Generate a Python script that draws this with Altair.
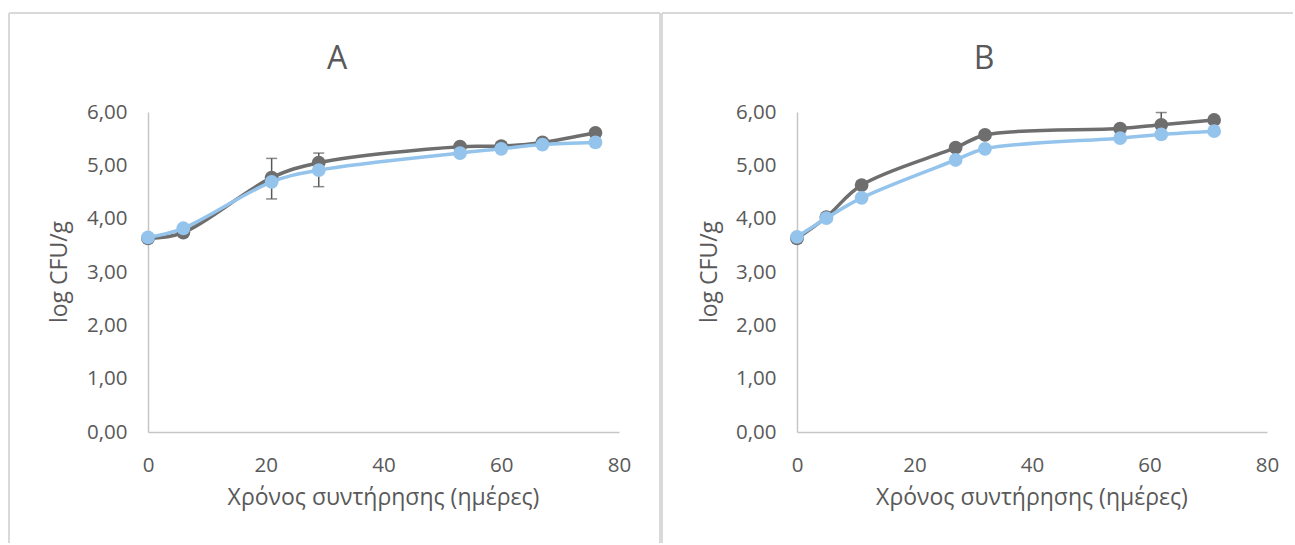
import altair as alt
import pandas as pd

# ---- data ----
A_days = [0, 6, 21, 29, 53, 60, 67, 76]
A_dark = [3.63, 3.74, 4.77, 5.05, 5.35, 5.36, 5.43, 5.61]
A_blue = [3.65, 3.82, 4.69, 4.91, 5.23, 5.31, 5.39, 5.43]
A_err_days = [21, 29]
A_err_lo = [4.37, 4.60]
A_err_hi = [5.13, 5.23]

B_days = [0, 5, 11, 27, 32, 55, 62, 71]
B_dark = [3.63, 4.03, 4.63, 5.33, 5.57, 5.69, 5.76, 5.85]
B_blue = [3.66, 4.01, 4.39, 5.10, 5.31, 5.51, 5.58, 5.64]
B_err_days = [62]
B_err_lo = [5.53]
B_err_hi = [5.99]

x_ticks = [0, 20, 40, 60, 80]
y_ticks = [0, 1, 2, 3, 4, 5, 6]

GREY = "#6E6E6E"
BLUE = "#94C4EC"
TEXT = "#595959"
FRAME = "#D9D9D9"
AXIS = "#C6C6C6"
FONT = "Open Sans"
H = 320


def panel(days, dark, blue, edays, elo, ehi, letter, width, frame, title_x, ytitle_x):
    df = pd.DataFrame({"day": days, "dark": dark, "blue": blue})
    edf = pd.DataFrame({"day": edays, "lo": elo, "hi": ehi})
    one = pd.DataFrame({"k": [0]})

    xenc = alt.X(
        "day:Q",
        scale=alt.Scale(domain=[0, 80], nice=False, zero=False),
        axis=alt.Axis(
            values=x_ticks, title=None, grid=False, ticks=False,
            domainColor=AXIS, domainWidth=1.5,
            labelFont=FONT, labelFontSize=20.5, labelColor=TEXT,
            labelPadding=23, labelFlush=False,
        ),
    )
    yscale = alt.Scale(domain=[0, 6], nice=False)
    yaxis = alt.Axis(
        values=y_ticks, title=None, grid=False, ticks=False,
        domainColor=AXIS, domainWidth=1.5,
        labelFont=FONT, labelFontSize=20.5, labelColor=TEXT,
        labelPadding=21, labelFlush=False,
        labelExpr="replace(format(datum.value, '.2f'), '.', ',')",
    )

    base = alt.Chart(df)
    err_rule = alt.Chart(edf).mark_rule(color=TEXT, strokeWidth=1.5).encode(
        x=alt.X("day:Q"), y=alt.Y("lo:Q"), y2="hi:Q"
    )
    err_lo = alt.Chart(edf).mark_tick(color=TEXT, orient="horizontal", size=11, thickness=1.5).encode(
        x="day:Q", y="lo:Q"
    )
    err_hi = alt.Chart(edf).mark_tick(color=TEXT, orient="horizontal", size=11, thickness=1.5).encode(
        x="day:Q", y="hi:Q"
    )
    dark_line = base.mark_line(color=GREY, strokeWidth=3.5, interpolate="catmull-rom").encode(
        x=xenc, y=alt.Y("dark:Q", scale=yscale, axis=yaxis)
    )
    dark_pts = base.mark_circle(color=GREY, size=190, opacity=1).encode(x="day:Q", y="dark:Q")
    blue_line = base.mark_line(color=BLUE, strokeWidth=3.5, interpolate="catmull-rom").encode(
        x="day:Q", y="blue:Q"
    )
    blue_pts = base.mark_circle(color=BLUE, size=190, opacity=1).encode(x="day:Q", y="blue:Q")

    left, right, top, bottom, draw_left, draw_right = frame
    layers = []
    fr = alt.Chart(one).mark_rule(color=FRAME, strokeWidth=2)
    layers.append(fr.encode(x=alt.value(left), x2=alt.value(right), y=alt.value(top)))
    if draw_left:
        layers.append(fr.encode(x=alt.value(left), y=alt.value(top), y2=alt.value(bottom)))
    if draw_right:
        layers.append(fr.encode(x=alt.value(right), y=alt.value(top), y2=alt.value(bottom)))

    title = alt.Chart(one).mark_text(
        text=letter, font=FONT, fontSize=32, color=TEXT, align="center", baseline="alphabetic"
    ).encode(x=alt.value(title_x), y=alt.value(-43))
    xtitle = alt.Chart(one).mark_text(
        text="Χρόνος συντήρησης (ημέρες)", font=FONT, fontSize=23, color=TEXT,
        align="center", baseline="alphabetic"
    ).encode(x=alt.value(width / 2), y=alt.value(393))
    ytitle = alt.Chart(one).mark_text(
        text="log CFU/g", font=FONT, fontSize=23, color=TEXT,
        align="center", baseline="middle", angle=270
    ).encode(x=alt.value(ytitle_x), y=alt.value(H / 2))

    return alt.layer(
        *layers, title, xtitle, ytitle,
        err_rule, err_lo, err_hi,
        dark_line, dark_pts, blue_line, blue_pts,
    ).properties(width=width, height=H)


pA = panel(A_days, A_dark, A_blue, A_err_days, A_err_lo, A_err_hi, "A", 471,
           (-139, 512, -99, 431, True, True), 189, -88)
pB = panel(B_days, B_dark, B_blue, B_err_days, B_err_lo, B_err_hi, "B", 470,
           (-135, 496, -99, 431, True, False), 187, -87)

chart = alt.hconcat(pA, pB, spacing=0).properties(
    padding={"left": 8, "top": 12, "right": 0, "bottom": 0},
    background="white",
).configure_view(stroke=None)

chart.save("out.html", embed_options={"renderer": "svg", "actions": False})
